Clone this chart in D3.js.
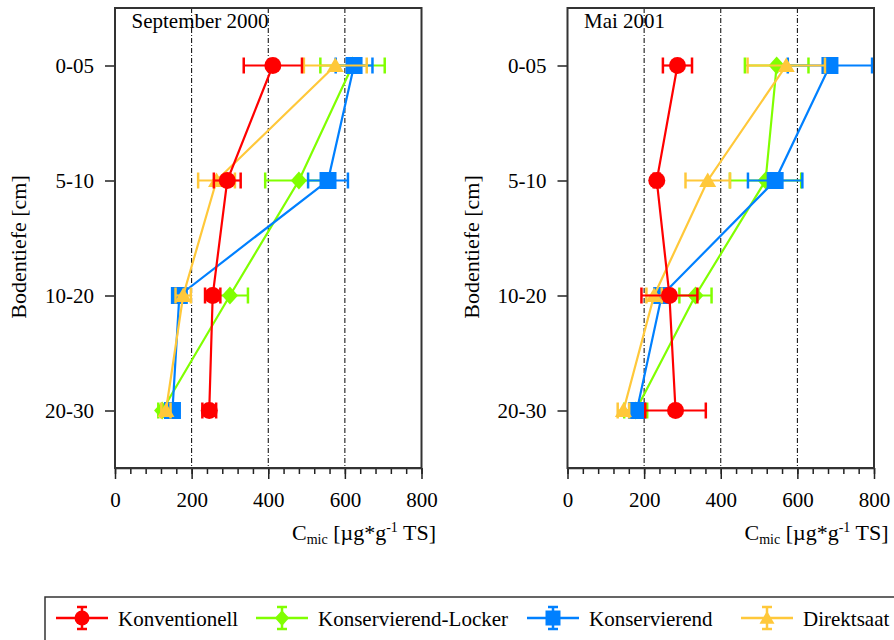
<!DOCTYPE html>
<html>
<head>
<meta charset="utf-8">
<script src="https://cdn.jsdelivr.net/npm/d3@7"></script>
<style>
  body { margin: 0; background: #fff; }
  svg text { font-family: "Liberation Serif", "Times New Roman", serif !important; fill: #000; }
</style>
</head>
<body>
<div id="wrapper"></div>
<script>
// categories
const depths = ["0-05", "5-10", "10-20", "20-30"]
const seriesNames = ["Konventionell", "Konservierend-Locker", "Konservierend", "Direktsaat"]
const seriesColors = ["#ff0000", "#80ff00", "#0080ff", "#ffc83a"]
const seriesShapes = ["circle", "diamond", "square", "triangle"]
const xTicks = [0, 200, 400, 600, 800]

// September 2000, one row per series (same order as seriesNames)
const sepMeans = [
    [412, 293, 255, 246],
    [620, 480, 300, 123],
    [624, 556, 168, 150],
    [575, 265, 178, 133],
]
const sepSd = [
    [76, 35, 20, 18],
    [84, 88, 47, 10],
    [48, 52, 15, 10],
    [82, 48, 20, 12],
]

// Mai 2001
const maiMeans = [
    [287, 233, 266, 282],
    [546, 517, 334, 178],
    [685, 542, 246, 181],
    [571, 366, 226, 146],
]
const maiSd = [
    [38, 8, 73, 79],
    [83, 93, 42, 30],
    [110, 71, 15, 20],
    [101, 58, 20, 15],
]

const serif = "Liberation Serif"
const width = 894
const height = 640
const svg = d3.select("#wrapper").append("svg")
    .attr("width", width)
    .attr("height", height)
    .attr("font-family", serif)

function markerPath(shape, s) {
    // s = half size
    if (shape == "circle") return d3.symbol(d3.symbolCircle, Math.PI * s * s)()
    if (shape == "square") return `M${-s},${-s}H${s}V${s}H${-s}Z`
    if (shape == "diamond") return `M0,${-s * 1.05}L${s * 0.95},0L0,${s * 1.05}L${-s * 0.95},0Z`
    return `M0,${-s * 0.95}L${s},${s * 0.75}L${-s},${s * 0.75}Z`
}

// drawing order: green, blue, yellow, red
const drawOrder = [1, 2, 3, 0]

function drawPanel(left, title, means, sds) {
    const dims = { left: left, right: left + 306.5, top: 8, bottom: 468 }

    const x = d3.scaleLinear().domain([0, 800]).range([dims.left, dims.right])
    const y = d3.scalePoint().domain(depths).range([dims.top, dims.bottom]).padding(0.5)

    const g = svg.append("g")

    // grid lines
    g.selectAll(".grid")
        .data([200, 400, 600])
        .join("line")
        .attr("x1", d => x(d)).attr("x2", d => x(d))
        .attr("y1", dims.top).attr("y2", dims.bottom)
        .attr("stroke", "#000")
        .attr("stroke-width", 1)
        .attr("stroke-dasharray", "5,2,1,2")

    // minor ticks
    g.append("g")
        .attr("transform", `translate(0,${dims.bottom})`)
        .call(d3.axisBottom(x).tickValues(d3.range(0, 801, 40)).tickSize(6).tickFormat(""))
        .call(a => a.select(".domain").remove())
        .call(a => a.selectAll("line").attr("stroke", "#222").attr("stroke-width", 1.5))

    // major ticks with labels
    g.append("g")
        .attr("transform", `translate(0,${dims.bottom})`)
        .call(d3.axisBottom(x).tickValues(xTicks).tickSize(11).tickPadding(13).tickSizeOuter(0))
        .attr("font-family", serif).attr("font-size", 21)
        .call(a => a.select(".domain").attr("stroke", "#222").attr("stroke-width", 1.5))
        .call(a => a.selectAll("line").attr("stroke", "#222").attr("stroke-width", 1.5))

    // left axis
    g.append("g")
        .attr("transform", `translate(${dims.left},0)`)
        .call(d3.axisLeft(y).tickSize(10).tickPadding(11).tickSizeOuter(0))
        .attr("font-family", serif).attr("font-size", 21)
        .call(a => a.select(".domain").remove())
        .call(a => a.selectAll("line").attr("stroke", "#222").attr("stroke-width", 1.5))

    // series
    drawOrder.forEach(i => {
        const color = seriesColors[i]
        const pts = depths.map((d, j) => ({ depth: d, v: means[i][j], sd: sds[i][j] }))
        const sg = g.append("g")

        // error bars
        sg.selectAll(".err")
            .data(pts)
            .join("line")
            .attr("x1", d => x(d.v - d.sd)).attr("x2", d => x(d.v + d.sd))
            .attr("y1", d => y(d.depth)).attr("y2", d => y(d.depth))
            .attr("stroke", color).attr("stroke-width", 2.2)
        sg.selectAll(".capL")
            .data(pts)
            .join("line")
            .attr("x1", d => x(d.v - d.sd)).attr("x2", d => x(d.v - d.sd))
            .attr("y1", d => y(d.depth) - 8).attr("y2", d => y(d.depth) + 8)
            .attr("stroke", color).attr("stroke-width", 2.5)
        sg.selectAll(".capR")
            .data(pts)
            .join("line")
            .attr("x1", d => x(d.v + d.sd)).attr("x2", d => x(d.v + d.sd))
            .attr("y1", d => y(d.depth) - 8).attr("y2", d => y(d.depth) + 8)
            .attr("stroke", color).attr("stroke-width", 2.5)

        // line
        sg.append("path")
            .datum(pts)
            .attr("fill", "none")
            .attr("stroke", color)
            .attr("stroke-width", 2.2)
            .attr("d", d3.line().x(d => x(d.v)).y(d => y(d.depth)))

        // markers
        sg.selectAll(".mk")
            .data(pts)
            .join("path")
            .attr("transform", d => `translate(${x(d.v)},${y(d.depth)})`)
            .attr("d", markerPath(seriesShapes[i], 8.5))
            .attr("fill", color)
    })

    // frame
    g.append("rect")
        .attr("x", dims.left).attr("y", dims.top)
        .attr("width", dims.right - dims.left).attr("height", dims.bottom - dims.top)
        .attr("fill", "none")
        .attr("stroke", "#333")
        .attr("stroke-width", 2)

    // panel title
    g.append("text")
        .attr("x", dims.left + 16.5).attr("y", 28)
        .attr("font-size", 21)
        .text(title)

    // y title
    g.append("text")
        .attr("transform", `translate(${dims.left - 89},${(dims.top + dims.bottom) / 2 + 9}) rotate(-90)`)
        .attr("text-anchor", "middle")
        .attr("font-size", 22)
        .text("Bodentiefe [cm]")

    // x title
    const xt = g.append("text")
        .attr("x", dims.left + 177).attr("y", 540)
        .attr("font-size", 22)
    xt.append("tspan").text("C")
    xt.append("tspan").attr("dy", 4).attr("font-size", 14).text("mic")
    xt.append("tspan").attr("dy", -4).text(" [µg*g")
    xt.append("tspan").attr("dy", -8).attr("font-size", 14).text("-1")
    xt.append("tspan").attr("dy", 8).text(" TS]")
}

drawPanel(115, "September 2000", sepMeans, sepSd)
drawPanel(567.5, "Mai 2001", maiMeans, maiSd)

// legend
const legendX = [82, 282, 553, 767]
const legendY = 618
const legend = svg.append("g")
legend.append("rect")
    .attr("x", 45).attr("y", 597)
    .attr("width", 900).attr("height", 60)
    .attr("fill", "none")
    .attr("stroke", "#333")
    .attr("stroke-width", 1.5)

seriesNames.forEach((name, i) => {
    const cx = legendX[i]
    const color = seriesColors[i]
    const lg = legend.append("g")
    lg.append("line")
        .attr("x1", cx - 26).attr("x2", cx + 26)
        .attr("y1", legendY).attr("y2", legendY)
        .attr("stroke", color).attr("stroke-width", 2.5)
    lg.append("line")
        .attr("x1", cx).attr("x2", cx)
        .attr("y1", legendY - 11).attr("y2", legendY + 11)
        .attr("stroke", color).attr("stroke-width", 2.5)
    ;[-11, 11].forEach(o => lg.append("line")
        .attr("x1", cx - 5).attr("x2", cx + 5)
        .attr("y1", legendY + o).attr("y2", legendY + o)
        .attr("stroke", color).attr("stroke-width", 2.5))
    lg.append("path")
        .attr("transform", `translate(${cx},${legendY})`)
        .attr("d", markerPath(seriesShapes[i], 7.5))
        .attr("fill", color)
    lg.append("text")
        .attr("x", cx + 36).attr("y", legendY + 8)
        .attr("font-size", 21)
        .text(name)
})
</script>
</body>
</html>
